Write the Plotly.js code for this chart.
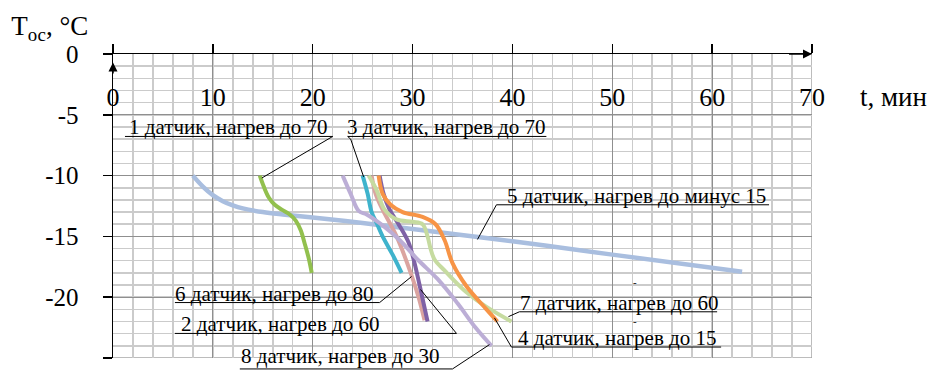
<!DOCTYPE html>
<html>
<head>
<meta charset="utf-8">
<script src="https://cdn.plot.ly/plotly-3.0.1.min.js"></script>
<style>
  html, body { margin: 0; padding: 0; background: #fff; }
  #chart { width: 933px; height: 370px; }
</style>
</head>
<body>
<div id="chart"></div>
<script>
// Температура окружающей среды по датчикам при нагреве, t — минуты, Т — °C
const s1_t = [14.7, 15.1, 15.6, 16.2, 16.9, 17.7, 18.3, 18.8, 19.2, 19.6, 19.9];
const s1_T = [-10, -10.9, -11.8, -12.4, -12.8, -13.2, -13.7, -14.5, -15.6, -16.8, -18];

const s2_t = [26.7, 27.1, 27.7, 28.6, 29.6, 30.2, 30.7, 31.1, 31.5];
const s2_T = [-10, -11.5, -12.8, -14, -15.5, -17.2, -19, -20.5, -22];

const s3_t = [25, 25.5, 25.9, 26.4, 27, 28, 28.9];
const s3_T = [-10, -11.5, -13, -13.9, -15, -16.5, -18];

const s4_t = [26.6, 27, 27.8, 29, 31, 32.3, 33.2, 34, 35.4, 37.4, 38.5];
const s4_T = [-10, -11.5, -12.4, -13, -13.4, -14, -15.3, -17.2, -19.1, -21, -22];

const s5_t = [8, 9, 10, 11, 12, 13, 15, 17, 20, 25, 30, 40, 50, 63];
const s5_T = [-10, -10.9, -11.6, -12.1, -12.45, -12.7, -13.0, -13.2, -13.45, -13.9, -14.4, -15.4, -16.5, -17.9];

const s6_t = [25.9, 26.3, 27, 28.4, 29.9, 30.6, 31.2];
const s6_T = [-10, -11.5, -12.8, -15, -18.2, -20, -21.9];

const s7_t = [25.6, 26.4, 27.2, 28.4, 30, 31, 31.5, 31.8, 32.2, 33.2, 35.4, 37.4, 39.9];
const s7_T = [-10, -11.2, -12.8, -13.6, -13.8, -14, -15, -16, -16.9, -17.8, -19.6, -20.8, -22];

const s8_t = [23, 23.8, 24.6, 25.4, 27, 28.7, 30.5, 32.5, 34.5, 36.3, 37.9];
const s8_T = [-10, -11.5, -12.9, -13.2, -14.1, -15.3, -16.9, -18.5, -20.5, -22.5, -24];

const seriesNames = [
  '1 датчик, нагрев до 70',
  '2 датчик, нагрев до 60',
  '3 датчик, нагрев до 70',
  '4 датчик, нагрев до 15',
  '5 датчик, нагрев до минус 15',
  '6 датчик, нагрев до 80',
  '7 датчик, нагрев до 60',
  '8 датчик, нагрев до 30'
];

const xTicks = [0, 10, 20, 30, 40, 50, 60, 70];
const xTickText = ['0', '10', '20', '30', '40', '50', '60', '70'];
const yTicks = [0, -5, -10, -15, -20, -25];
const yTickText = ['0', '-5', '-10', '-15', '-20', '-25'];

const SERIF = 'Liberation Serif, Times New Roman, serif';
const X_MAX = 70, Y_MIN = -25;

// data units -> paper fractions (used for callouts that may leave the plot area)
const px = t => t / X_MAX;
const py = T => (T - Y_MIN) / (0 - Y_MIN);

function curve(t, T, color, width, xa) {
  return {
    x: t, y: T, type: 'scatter', mode: 'lines', xaxis: xa || 'x', yaxis: 'y',
    line: { color: color, width: width, shape: 'spline', smoothing: 1 },
    hoverinfo: 'skip', showlegend: false
  };
}

const traces = [
  curve(s5_t, s5_T, '#a9bedf', 4.5),
  curve(s1_t, s1_T, '#92c04e', 4),
  curve(s3_t, s3_T, '#3fb3cc', 4),
  curve(s6_t, s6_T, '#dba4a0', 4),
  curve(s2_t, s2_T, '#7f62a6', 4),
  curve(s7_t, s7_T, '#c6dba0', 4),
  curve(s4_t, s4_T, '#f79446', 4),
  curve(s8_t, s8_T, '#bcaed6', 4, 'x2')
];

// callouts: text centre, underline + leader polyline (in minutes / °C)
const callouts = [
  { name: seriesNames[0], cx: 11.6, ty: -6.78, path: [[1.2, -6.78], [22.0, -6.78], [14.9, -10.2]] },
  { name: seriesNames[2], cx: 33.4, ty: -6.78, path: [[43.4, -6.78], [23.5, -6.78], [23.8, -7.0], [25.1, -10.1]] },
  { name: seriesNames[4], cx: 52.4, ty: -12.4, path: [[65.7, -12.4], [38.4, -12.4], [36.5, -15.25]] },
  { name: seriesNames[5], cx: 16.2, ty: -20.44, path: [[6.2, -20.44], [26.7, -20.44], [29.9, -18.3]] },
  { name: seriesNames[1], cx: 16.8, ty: -22.98, path: [[6.2, -22.98], [34.4, -22.98], [30.8, -19.37]] },
  { name: seriesNames[7], cx: 22.8, ty: -25.6, path: [[12.7, -25.9], [34.0, -25.9], [37.7, -23.9]] },
  { name: seriesNames[6], cx: 50.7, ty: -21.2, path: [[60.5, -21.2], [40.7, -21.2], [39.6, -21.6]] },
  { name: seriesNames[3], cx: 50.5, ty: -24.1, path: [[60.9, -24.1], [39.9, -24.1], [38.2, -21.7]] }
];

const shapes = [
  // right and bottom frame of the grid
  { type: 'line', xref: 'x', yref: 'y', x0: 70, x1: 70, y0: -25, y1: 0, line: { color: '#a6a6a6', width: 1.5 }, layer: 'below' },
  { type: 'line', xref: 'x', yref: 'y', x0: 0, x1: 70, y0: -25, y1: -25, line: { color: '#a6a6a6', width: 1.5 }, layer: 'below' }
];
const annotations = [];

callouts.forEach(c => {
  const d = c.path.map((p, i) => (i ? 'L' : 'M') + px(p[0]).toFixed(5) + ',' + py(p[1]).toFixed(5)).join(' ');
  shapes.push({ type: 'path', xref: 'paper', yref: 'paper', path: d, line: { color: '#000', width: 1 } });
  annotations.push({
    xref: 'paper', yref: 'paper', x: px(c.cx), y: py(c.ty), xanchor: 'center', yanchor: 'bottom',
    yshift: -5, showarrow: false, text: c.name, font: { family: SERIF, size: 21, color: '#000' }
  });
});

// small dashes printed above the lower right callouts
[[52.7, -19.4], [52.7, -22.6]].forEach(p => annotations.push({
  xref: 'paper', yref: 'paper', x: px(p[0]), y: py(p[1]), showarrow: false, text: '-',
  font: { family: SERIF, size: 11, color: '#000' }
}));

// axis arrows
annotations.push({ xref: 'x', yref: 'y', axref: 'x', ayref: 'y', x: 70, y: 0, ax: 67.4, ay: 0, text: ' ',
  showarrow: true, arrowhead: 2, arrowsize: 1.2, arrowwidth: 1.5, arrowcolor: '#000', standoff: 0 });
annotations.push({ xref: 'x', yref: 'y', axref: 'x', ayref: 'y', x: 0, y: -0.7, ax: 0, ay: -2.3, text: ' ',
  showarrow: true, arrowhead: 2, arrowsize: 1.2, arrowwidth: 1.5, arrowcolor: '#000', standoff: 0 });

// time axis caption
annotations.push({ xref: 'paper', yref: 'paper', x: 1.066, y: 0.86, xanchor: 'left', yanchor: 'middle',
  showarrow: false, text: 't, мин', font: { family: SERIF, size: 27, color: '#000' } });

const layout = {
  width: 933, height: 370,
  margin: { l: 113, r: 121, t: 54, b: 12 },
  paper_bgcolor: '#fff', plot_bgcolor: '#fff',
  showlegend: false,
  font: { family: SERIF, color: '#000' },
  title: {
    text: 'T<sub>ос</sub>, °C', xref: 'container', yref: 'container',
    x: 0.012, xanchor: 'left', y: 0.93, yanchor: 'middle',
    font: { family: SERIF, size: 27, color: '#000' }
  },
  xaxis: {
    range: [0, 70], side: 'top', showline: true, linecolor: '#000', linewidth: 1.5,
    ticks: 'outside', ticklen: 9, tickwidth: 1.5, tickcolor: '#000',
    tickmode: 'array', tickvals: xTicks, showticklabels: false,
    showgrid: true, gridcolor: '#8f8f8f', gridwidth: 1,
    minor: { tick0: 0, dtick: 2, showgrid: true, gridcolor: '#cbcbcb', gridwidth: 1.5, ticks: '' },
    zeroline: false, fixedrange: true
  },
  xaxis2: {
    overlaying: 'x', anchor: 'free', position: 0.918, side: 'bottom', range: [0, 70],
    tickmode: 'array', tickvals: xTicks, ticktext: xTickText, ticks: '',
    showgrid: false, showline: false, zeroline: false, fixedrange: true,
    tickfont: { family: SERIF, size: 26, color: '#000' }
  },
  yaxis: {
    range: [-25, 0], showline: true, linecolor: '#000', linewidth: 1.5,
    ticks: 'outside', ticklen: 9, tickwidth: 1.5, tickcolor: '#000',
    tickmode: 'array', tickvals: yTicks, ticktext: yTickText, ticklabelstandoff: 19,
    tickfont: { family: SERIF, size: 25, color: '#000' },
    showgrid: true, gridcolor: '#8f8f8f', gridwidth: 1,
    minor: { tick0: 0, dtick: 1, showgrid: true, gridcolor: '#cbcbcb', gridwidth: 1.5, ticks: '' },
    zeroline: false, fixedrange: true
  },
  shapes: shapes,
  annotations: annotations
};

Plotly.newPlot('chart', traces, layout, { staticPlot: true, displayModeBar: false });
</script>
</body>
</html>
